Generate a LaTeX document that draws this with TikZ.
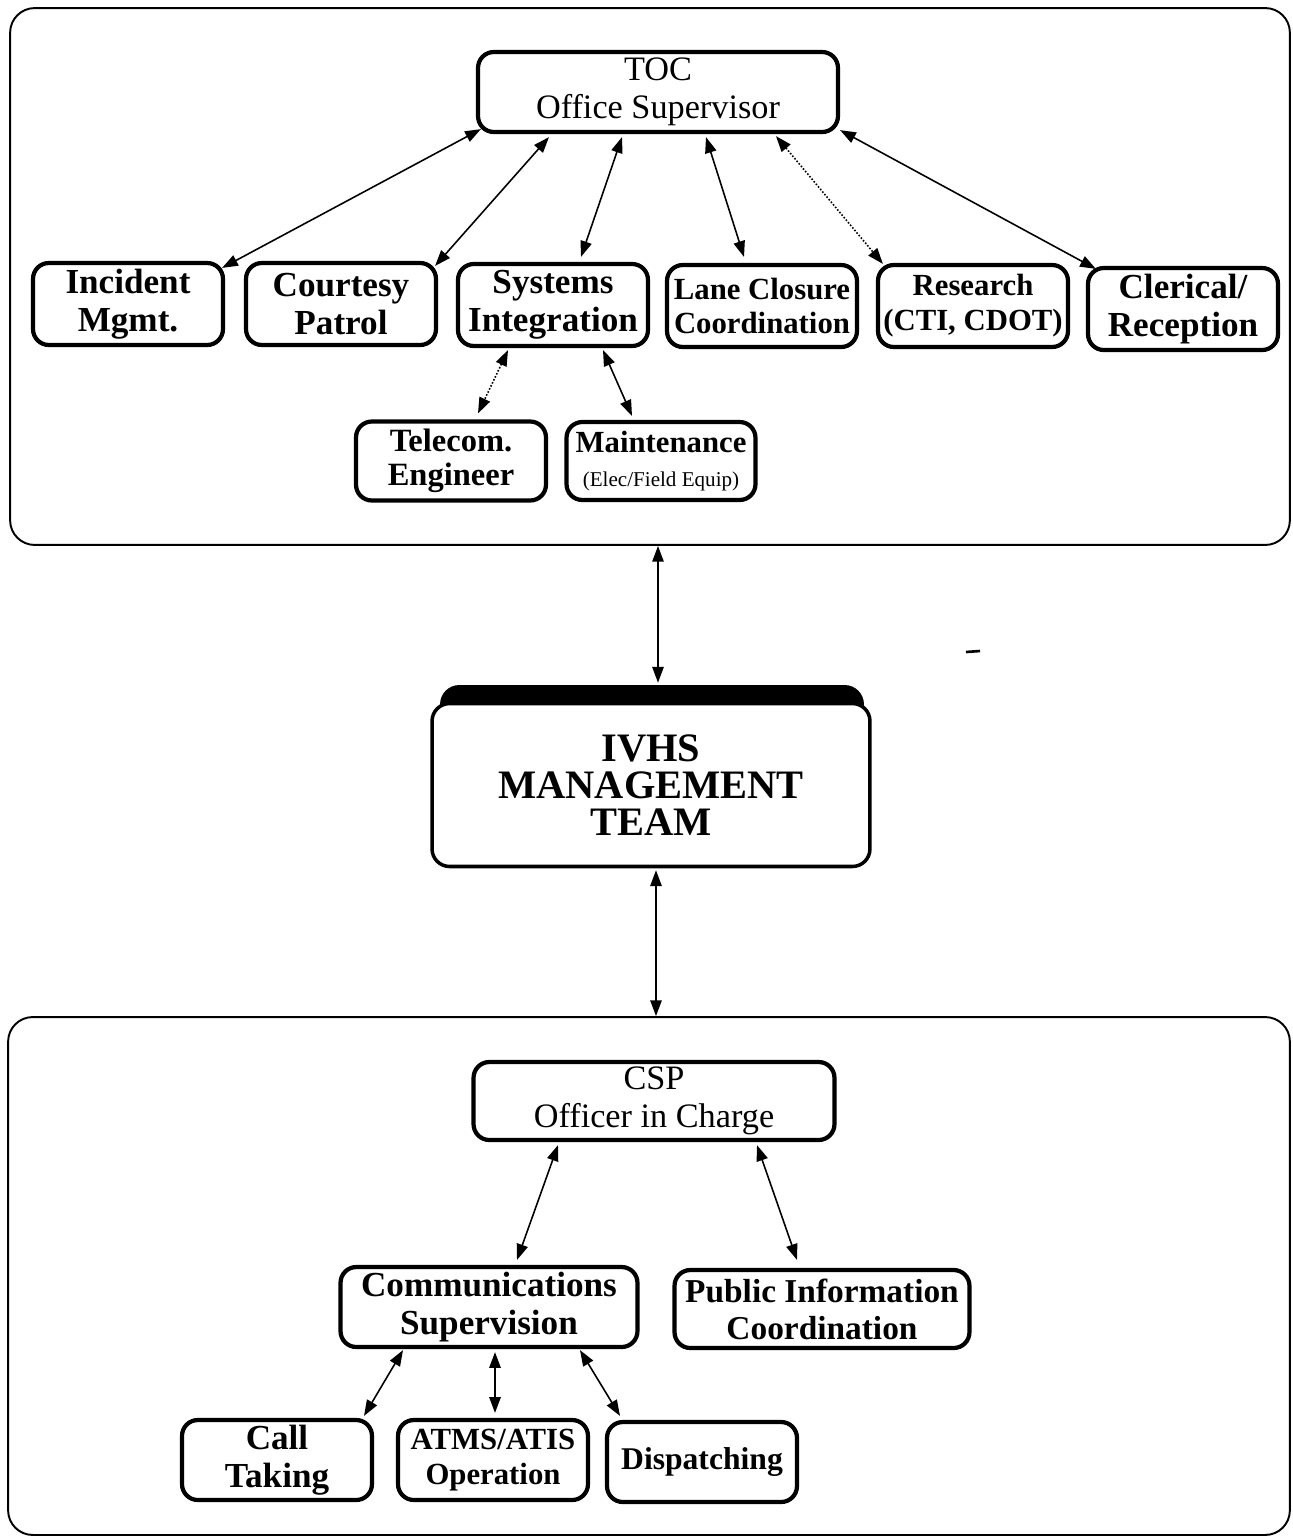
\documentclass[tikz,border=0pt]{standalone}
\usepackage{fontspec}
\setmainfont{Liberation Serif}
\usetikzlibrary{arrows.meta,calc}
\begin{document}
\begin{tikzpicture}[x=0.02cm,y=-0.02cm,
  groupbox/.style={draw, line width=1.1pt, rounded corners=14pt, inner sep=0pt},
  unitbox/.style={draw, fill=white, line width=2.4pt, rounded corners=9pt, inner sep=0pt,
    align=center, font=\bfseries\fontsize{20}{21.5}\selectfont,
    minimum width=3.8cm, minimum height=1.64cm},
  headbox/.style={unitbox, font=\fontsize{19.5}{21.5}\selectfont, minimum height=1.58cm},
  link/.style={line width=0.9pt,
    {Triangle[length=9pt,width=6.5pt]}-{Triangle[length=9pt,width=6.5pt]}},
  dotlink/.style={link, densely dotted}
]
\useasboundingbox (0,0) rectangle (1293,1539);

% the two department frames
\node[groupbox, minimum width=25.6cm, minimum height=10.74cm] (tocgrp) at (650,276.5) {};
\node[groupbox, minimum width=25.64cm, minimum height=10.36cm] (cspgrp) at (649,1276) {};

% TOC department
\node[headbox, minimum width=7.2cm, minimum height=1.6cm] (toc) at (658,92) {TOC\\Office Supervisor};
\node[unitbox] (inc)  at (128,304) {Incident\\Mgmt.};
\node[unitbox] (cour) at (341,304) {Courtesy\\Patrol};
\node[unitbox] (sys)  at (553,305) {Systems\\Integration};
\node[unitbox, font=\bfseries\fontsize{17.5}{19.5}\selectfont] (lane) at (762,306) {Lane Closure\\Coordination};
\node[unitbox, font=\bfseries\fontsize{17.5}{20}\selectfont] (res)  at (973,306) {Research\\(CTI, CDOT)};
\node[unitbox] (cler) at (1183,309) {Clerical/\\Reception};
\node[unitbox, font=\bfseries\fontsize{18.5}{19.5}\selectfont, minimum height=1.58cm] (tel) at (451,461) {Telecom.\\Engineer};
\node[unitbox, font=\bfseries\fontsize{17.5}{19}\selectfont, minimum width=3.78cm, minimum height=1.56cm] (maint) at (661,461)
  {Maintenance\\{\mdseries\fontsize{12}{14.5}\selectfont (Elec/Field Equip)}};

% management team, with its heavy top edge
\node[fill=black, rounded corners=11pt, minimum width=8.48cm, minimum height=1.5cm, inner sep=0pt] (ivhsback) at (652,722.5) {};
\node[draw, fill=white, line width=2pt, rounded corners=10pt, inner sep=0pt,
  minimum width=8.76cm, minimum height=3.26cm, align=center,
  font=\bfseries\fontsize{23}{21}\selectfont] (ivhs) at (651,785) {IVHS\\MANAGEMENT\\TEAM};

% CSP department
\node[headbox, minimum width=7.22cm, minimum height=1.56cm] (csp) at (654,1101) {CSP\\Officer in Charge};
\node[unitbox, minimum width=5.94cm, minimum height=1.6cm] (comm) at (489,1307) {Communications\\Supervision};
\node[unitbox, font=\bfseries\fontsize{19}{21}\selectfont, minimum width=5.9cm, minimum height=1.56cm] (pub) at (822,1309) {Public Information\\Coordination};
\node[unitbox, minimum height=1.6cm] (call) at (277,1460) {Call\\Taking};
\node[unitbox, font=\bfseries\fontsize{17.5}{19.5}\selectfont, minimum height=1.6cm] (atms) at (493,1460) {ATMS/ATIS\\Operation};
\node[unitbox, font=\bfseries\fontsize{18}{20}\selectfont, minimum height=1.6cm] (disp) at (702,1462) {Dispatching};

% reporting lines, TOC side
\draw[link] ($(toc.south west)+(5,-5)$) -- ($(inc.north east)+(-3,7)$);
\draw[link] ($(toc.south)+(-109,3)$) -- ($(cour.north east)+(-3,5)$);
\draw[link] ($(toc.south)+(-36,3)$) -- ($(sys.north)+(28,-5)$);
\draw[link] ($(toc.south)+(48,3)$) -- ($(lane.north)+(-18,-6)$);
\draw[dotlink] ($(toc.south)+(118,2)$) -- ($(res.north west)+(7,1)$);
\draw[link] ($(toc.south east)+(0,-4)$) -- ($(cler.north west)+(10,3)$);
\draw[dotlink] ($(sys.south)+(-45,2)$) -- ($(tel.north)+(27,-6)$);
\draw[link] ($(sys.south)+(50,2)$) -- ($(maint.north)+(-29,-4)$);

% links through the management team
\draw[link] ($(tocgrp.south)+(8,0)$) -- ($(ivhsback.north)+(6,-2)$);
\draw[link] ($(ivhs.south)+(5,2)$) -- ($(cspgrp.north)+(7,0)$);

% reporting lines, CSP side
\draw[link] ($(csp.south)+(-96,3)$) -- ($(comm.north)+(28,-5)$);
\draw[link] ($(csp.south)+(103,3)$) -- ($(pub.north)+(-25,-8)$);
\draw[link] ($(comm.south)+(-86,1)$) -- ($(call.north)+(87,-2)$);
\draw[link] ($(comm.south)+(6,3)$) -- ($(atms.north)+(2,-5)$);
\draw[link] ($(comm.south)+(91,1)$) -- ($(disp.north)+(-82,-4)$);

% small stroke beside the link
\draw[line width=1.5pt] (966,652) -- (980,651);
\end{tikzpicture}
\end{document}
